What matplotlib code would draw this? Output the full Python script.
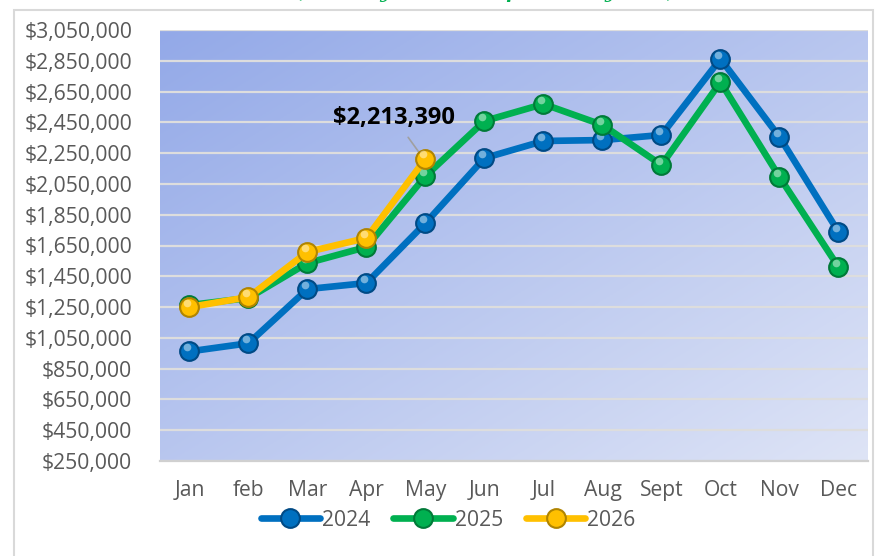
import numpy as np
import matplotlib.pyplot as plt
from matplotlib.ticker import FuncFormatter
from matplotlib.patches import Rectangle

months = ['Jan', 'feb', 'Mar', 'Apr', 'May', 'Jun', 'Jul', 'Aug', 'Sept', 'Oct', 'Nov', 'Dec']
sales_2024 = [962000, 1015000, 1367000, 1406000, 1796000, 2218000, 2329000, 2335000, 2368000, 2862000, 2355000, 1738000]
sales_2025 = [1263000, 1309000, 1536000, 1640000, 2101000, 2459000, 2569000, 2433000, 2173000, 2712000, 2095000, 1510000]
sales_2026 = [1250000, 1315000, 1608000, 1699000, 2213390]
years = ['2024', '2025', '2026']

colors = ['#0070C0', '#00B050', '#FFC000']
edges = ['#004A85', '#007A38', '#B08400']

plt.rcParams['font.family'] = ['Open Sans', 'DejaVu Sans']

fig = plt.figure(figsize=(8.79, 5.56), dpi=100)
# outer chart border
fig.patches.append(Rectangle((14 / 879, -0.01), 859 / 879, 1 - 10 / 556 + 0.01,
                             transform=fig.transFigure, fill=False,
                             edgecolor='#D9D9D9', linewidth=1.5))
# green title, cut off by the top edge as in the source
fig.text(486 / 879, 1 + 1.5 / 556, '(Monthly Sales Comparison by Year)', color='#00B050',
         fontsize=13.5, fontweight='bold', fontstyle='italic', family='DejaVu Serif',
         va='baseline', ha='center')

ax = fig.add_axes([160 / 879, 95 / 556, 708 / 879, 431 / 556])
x = np.arange(len(months))
ymin, ymax = 250000, 3050000

# gradient background, darker top-left
gx, gy = np.meshgrid(np.linspace(0, 1, 200), np.linspace(0, 1, 200))
t = (gx + gy) / 2
c0 = np.array([0x93, 0xA9, 0xE8]) / 255
c1 = np.array([0xDE, 0xE4, 0xF6]) / 255
img = c0[None, None, :] * (1 - t[..., None]) + c1[None, None, :] * t[..., None]
ax.imshow(img, extent=[-0.5, 11.5, ymin, ymax], origin='upper', aspect='auto', zorder=0)

ax.set_xlim(-0.5, 11.5)
ax.set_ylim(ymin, ymax)
ax.set_yticks(np.arange(ymin, ymax + 1, 200000))
ax.yaxis.set_major_formatter(FuncFormatter(lambda v, p: f'${v:,.0f}'))
ax.set_xticks(x)
ax.set_xticklabels(months)
ax.grid(axis='y', color='#DDDDDD', linewidth=1.6, zorder=1)
ax.tick_params(length=0, labelsize=15.2, colors='#595959')
ax.tick_params(axis='y', pad=20)
ax.tick_params(axis='x', pad=14)
for s in ['top', 'right', 'left']:
    ax.spines[s].set_visible(False)
ax.spines['bottom'].set_color('#D0D0D0')
ax.spines['bottom'].set_linewidth(1.6)

series = [sales_2024, sales_2025, sales_2026]
handles = []
for i, vals in enumerate(series):
    xs = x[:len(vals)]
    h, = ax.plot(xs, vals, color=colors[i], linewidth=4.8, marker='o', markersize=13.5,
                 markerfacecolor=colors[i], markeredgecolor=edges[i], markeredgewidth=1.5,
                 zorder=3 + i, label=years[i], solid_capstyle='round')
    # highlight for a sphere look
    ax.plot(xs - 0.04, np.array(vals) + 28000, linestyle='none', marker='o', markersize=5.5,
            markerfacecolor='white', markeredgewidth=0, alpha=0.45, zorder=3 + i)
    handles.append(h)

# data label for latest 2026 value
ax.annotate(f'${sales_2026[-1]:,.0f}', xy=(4 - 0.05, sales_2026[-1] + 10000),
            xytext=(3.47, 2478000), ha='center', va='center', fontsize=17, fontweight='bold',
            color='black', arrowprops=dict(arrowstyle='-', color='#A0A0A0', lw=1.2,
                                           shrinkA=4, shrinkB=0))

ax.legend(handles=handles, loc='center', bbox_to_anchor=(0.407, -0.137), ncol=3,
          frameon=False, fontsize=15.2, handlelength=2.8, columnspacing=1.1,
          handletextpad=0.1, labelcolor='#595959')

fig.savefig('out.png', dpi=100)
